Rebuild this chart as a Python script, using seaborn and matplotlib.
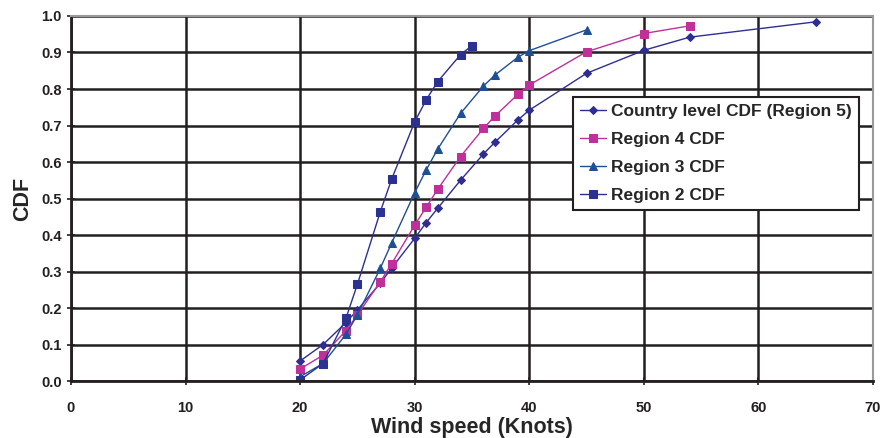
import numpy as np
import pandas as pd
import matplotlib
matplotlib.use("Agg")
import matplotlib.pyplot as plt
import seaborn as sns

# values
country_x = [20, 22, 24, 25, 27, 28, 30, 31, 32, 34, 36, 37, 39, 40, 45, 50, 54, 65]
country_y = [0.055, 0.10, 0.16, 0.195, 0.268, 0.31, 0.391, 0.434, 0.473, 0.55, 0.622,
             0.654, 0.715, 0.742, 0.843, 0.906, 0.942, 0.984]

region4_x = [20, 22, 24, 25, 27, 28, 30, 31, 32, 34, 36, 37, 39, 40, 45, 50, 54]
region4_y = [0.033, 0.071, 0.138, 0.181, 0.272, 0.322, 0.427, 0.476, 0.525, 0.615, 0.692,
             0.726, 0.785, 0.811, 0.902, 0.952, 0.973]

region3_x = [20, 22, 24, 25, 27, 28, 30, 31, 32, 34, 36, 37, 39, 40, 45]
region3_y = [0.012, 0.048, 0.128, 0.181, 0.309, 0.379, 0.516, 0.578, 0.635, 0.733, 0.808,
             0.838, 0.887, 0.905, 0.962]

region2_x = [20, 22, 24, 25, 27, 28, 30, 31, 32, 34, 35]
region2_y = [0.003, 0.048, 0.172, 0.265, 0.464, 0.554, 0.71, 0.77, 0.82, 0.894, 0.919]

series_names = ["Country level CDF (Region 5)", "Region 4 CDF", "Region 3 CDF", "Region 2 CDF"]
x_ticks = [0, 10, 20, 30, 40, 50, 60, 70]
y_ticks = [0.0, 0.1, 0.2, 0.3, 0.4, 0.5, 0.6, 0.7, 0.8, 0.9, 1.0]

sns.set_theme(style="white")
plt.rcParams["font.family"] = ["Liberation Sans", "DejaVu Sans"]

styles = {
    series_names[0]: dict(color="#2e2e92", marker="D", ms=4),
    series_names[1]: dict(color="#c0309a", marker="s", ms=6),
    series_names[2]: dict(color="#1f4f93", marker="^", ms=6),
    series_names[3]: dict(color="#2b3190", marker="s", ms=5.5),
}
data = [(country_x, country_y), (region4_x, region4_y), (region3_x, region3_y), (region2_x, region2_y)]

fig = plt.figure(figsize=(8.85, 4.38), dpi=100)
ax = fig.add_axes([0.0802, 0.130, 0.9062, 0.8335])

for name, (xs, ys) in zip(series_names, data):
    st = styles[name]
    sns.lineplot(x=xs, y=ys, ax=ax, color=st["color"], marker=st["marker"],
                 markersize=st["ms"], markeredgecolor=st["color"], linewidth=1.0,
                 label=name)

ax.set_xlim(0, 70)
ax.set_ylim(0, 1.0)
ax.set_xticks(x_ticks)
ax.set_yticks(y_ticks)
ax.set_yticklabels([f"{v:.1f}" for v in y_ticks])
ax.grid(True, color="#231f20", linewidth=1.8)
ax.set_axisbelow(True)
ax.tick_params(axis="both", labelsize=10.5, direction="inout", length=6, width=1.2,
               colors="#231f20", left=True, bottom=True)
for lab in ax.get_xticklabels() + ax.get_yticklabels():
    lab.set_fontweight("bold")
ax.tick_params(axis="x", pad=11)

for side in ["left", "bottom"]:
    ax.spines[side].set_color("#231f20")
    ax.spines[side].set_linewidth(2)
for side in ["top", "right"]:
    ax.spines[side].set_color("#9a9a9a")
    ax.spines[side].set_linewidth(1.5)

ax.set_xlabel("Wind speed (Knots)", fontsize=15.5, fontweight="bold", labelpad=2)
ax.set_ylabel("CDF", fontsize=15.5, fontweight="bold", labelpad=6)

leg = ax.legend(loc="upper left", bbox_to_anchor=(0.626, 0.777), borderaxespad=0,
                prop={"weight": "bold", "size": 12.5},
                frameon=True, fancybox=False, edgecolor="#231f20", framealpha=1,
                borderpad=0.4, labelspacing=0.74, handlelength=1.5, handletextpad=0.3)
leg.get_frame().set_linewidth(1.5)

fig.savefig("out.png", dpi=100)
